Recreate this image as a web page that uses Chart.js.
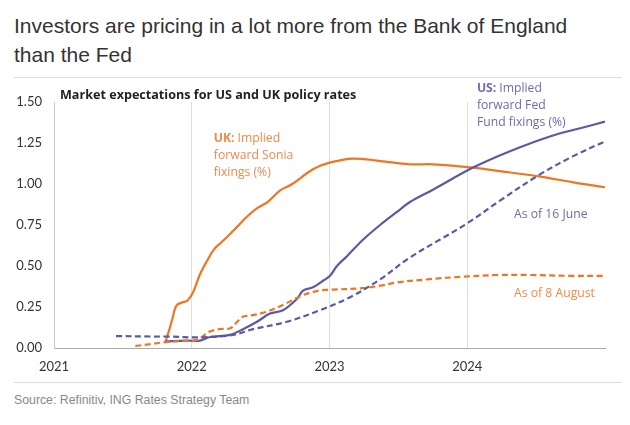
<!DOCTYPE html>
<html>
<head>
<meta charset="utf-8">
<script src="https://cdn.jsdelivr.net/npm/chart.js@4"></script>
<style>
  body { margin: 0; background: #fff; width: 630px; height: 425px; position: relative; overflow: hidden; }
  #headline { position: absolute; left: 14px; top: 11px; font: 21px "Liberation Sans", Arial, sans-serif; line-height: 29px; color: #333; }
  .rule { position: absolute; left: 14px; width: 608px; height: 1px; background: #ddd; }
  #subtitle { position: absolute; left: 60px; top: 86px; font: bold 12.6px "Open Sans", sans-serif; color: #222; }
  #source { position: absolute; left: 14px; top: 393px; font: 12.3px "Liberation Sans", Arial, sans-serif; color: #888; }
  #wrap { position: absolute; left: 0; top: 80px; width: 630px; height: 300px; }
</style>
</head>
<body>
<div id="headline">Investors are pricing in a lot more from the Bank of England<br>than the Fed</div>
<div class="rule" style="top:77px"></div>
<div id="wrap"><canvas id="chart"></canvas></div>
<div id="subtitle">Market expectations for US and UK policy rates</div>
<div class="rule" style="top:382px"></div>
<div id="source">Source: Refinitiv, ING Rates Strategy Team</div>
<script>
// UK: implied forward Sonia fixings, current
const ukDates = [2021.806, 2021.84, 2021.86, 2021.89, 2021.94, 2021.97, 2022.01, 2022.06, 2022.11, 2022.16, 2022.21, 2022.26, 2022.33, 2022.40, 2022.47, 2022.55, 2022.64, 2022.73, 2022.88, 2023.00, 2023.17, 2023.37, 2023.58, 2023.75, 2024.04, 2024.31, 2024.53, 2024.77, 2025.0];
const ukRates = [0.03, 0.12, 0.18, 0.26, 0.28, 0.29, 0.34, 0.45, 0.53, 0.60, 0.64, 0.68, 0.74, 0.80, 0.85, 0.89, 0.96, 1.00, 1.09, 1.13, 1.155, 1.14, 1.12, 1.12, 1.10, 1.07, 1.045, 1.01, 0.98];

// UK: as of 8 August
const ukAugDates = [2021.59, 2021.70, 2021.81, 2021.94, 2022.04, 2022.13, 2022.21, 2022.28, 2022.33, 2022.37, 2022.44, 2022.54, 2022.68, 2022.80, 2022.92, 2023.00, 2023.24, 2023.37, 2023.49, 2023.73, 2023.97, 2024.22, 2024.46, 2024.75, 2025.0];
const ukAugRates = [0.012, 0.024, 0.036, 0.043, 0.05, 0.10, 0.116, 0.12, 0.16, 0.19, 0.20, 0.22, 0.27, 0.32, 0.35, 0.355, 0.365, 0.38, 0.40, 0.42, 0.435, 0.445, 0.445, 0.44, 0.44];

// US: implied forward Fed Fund fixings, current
const usDates = [2021.806, 2021.965, 2022.06, 2022.133, 2022.278, 2022.372, 2022.474, 2022.568, 2022.662, 2022.764, 2022.808, 2022.88, 2022.953, 2023.004, 2023.054, 2023.127, 2023.243, 2023.367, 2023.49, 2023.584, 2023.751, 2024.042, 2024.31, 2024.60, 2024.82, 2025.0];
const usRates = [0.04, 0.045, 0.045, 0.067, 0.08, 0.115, 0.16, 0.21, 0.23, 0.30, 0.35, 0.37, 0.41, 0.44, 0.50, 0.56, 0.66, 0.75, 0.83, 0.89, 0.965, 1.10, 1.20, 1.29, 1.34, 1.38];

// US: as of 16 June
const usJunDates = [2021.45, 2021.70, 2021.82, 2022.06, 2022.30, 2022.445, 2022.69, 2022.93, 2023.15, 2023.37, 2023.58, 2023.80, 2024.00, 2024.24, 2024.53, 2024.77, 2025.0];
const usJunRates = [0.073, 0.07, 0.07, 0.065, 0.08, 0.115, 0.16, 0.23, 0.31, 0.42, 0.55, 0.66, 0.76, 0.90, 1.06, 1.17, 1.26];

const yearTicks = [2021, 2022, 2023, 2024];

const ORANGE = '#ee7623';
const PURPLE = '#5b59a6';

const pairs = (xs, ys) => xs.map((x, i) => ({ x: x, y: ys[i] }));

// text notes placed in data units
const notes = [
  { x: 2022.16, y: 1.28, color: '#f0894a', lines: [['UK:', 'Implied'], ['', 'forward Sonia'], ['', 'fixings (%)']] },
  { x: 2024.07, y: 1.58, color: '#6e6bb0', lines: [['US:', 'Implied'], ['', 'forward Fed'], ['', 'Fund fixings (%)']] },
  { x: 2024.34, y: 0.815, color: '#6e6bb0', lines: [['', 'As of 16 June']] },
  { x: 2024.34, y: 0.335, color: '#f0894a', lines: [['', 'As of 8 August']] }
];

const notePlugin = {
  id: 'notes',
  afterDatasetsDraw(chart) {
    const ctx = chart.ctx;
    const xs = chart.scales.x, ys = chart.scales.y;
    ctx.save();
    ctx.textBaseline = 'middle';
    notes.forEach(n => {
      const px = xs.getPixelForValue(n.x);
      const py = ys.getPixelForValue(n.y);
      n.lines.forEach((ln, i) => {
        let cx = px;
        ctx.fillStyle = n.color;
        if (ln[0]) {
          ctx.font = 'bold 12.2px "Open Sans", sans-serif';
          ctx.fillText(ln[0], cx, py + i * 17);
          cx += ctx.measureText(ln[0]).width + 3;
        }
        ctx.font = '12.2px "Open Sans", sans-serif';
        ctx.fillText(ln[1], cx, py + i * 17);
      });
    });
    ctx.restore();
  }
};

const line = (label, xs, ys, color, dashed) => ({
  label: label,
  data: pairs(xs, ys),
  borderColor: color,
  borderWidth: 2.2,
  borderDash: dashed ? [6, 3.5] : [],
  pointRadius: 0,
  tension: 0.35,
  fill: false
});

new Chart(document.getElementById('chart'), {
  type: 'line',
  data: {
    datasets: [
      line('US as of 16 June', usJunDates, usJunRates, PURPLE, true),
      line('UK as of 8 August', ukAugDates, ukAugRates, ORANGE, true),
      line('US', usDates, usRates, PURPLE, false),
      line('UK', ukDates, ukRates, ORANGE, false)
    ]
  },
  options: {
    responsive: true,
    maintainAspectRatio: false,
    animation: false,
    layout: { padding: { top: 22, right: 25, left: 0, bottom: 0 } },
    plugins: { legend: { display: false }, tooltip: { enabled: false } },
    scales: {
      x: {
        type: 'linear',
        min: 2021,
        max: 2025,
        afterBuildTicks: (s) => { s.ticks = yearTicks.concat([2025]).map(v => ({ value: v })); },
        afterFit: (s) => { s.height = 32; },
        ticks: {
          padding: 11,
          color: '#333',
          font: { family: 'Lato, sans-serif', size: 13 },
          callback: (v) => yearTicks.includes(v) ? String(v) : ''
        },
        grid: {
          drawTicks: false,
          color: (c) => c.tick && c.tick.value === 2025 ? 'rgba(0,0,0,0)' : '#dddddd'
        },
        border: { color: '#aaaaaa' }
      },
      y: {
        min: 0,
        max: 1.5,
        afterFit: (s) => { s.width = 54; },
        ticks: {
          stepSize: 0.25,
          padding: 12,
          color: '#333',
          font: { family: 'Lato, sans-serif', size: 13 },
          callback: (v) => v.toFixed(2)
        },
        grid: { display: false, drawTicks: false },
        border: { color: '#cccccc' }
      }
    }
  },
  plugins: [notePlugin]
});
</script>
</body>
</html>
